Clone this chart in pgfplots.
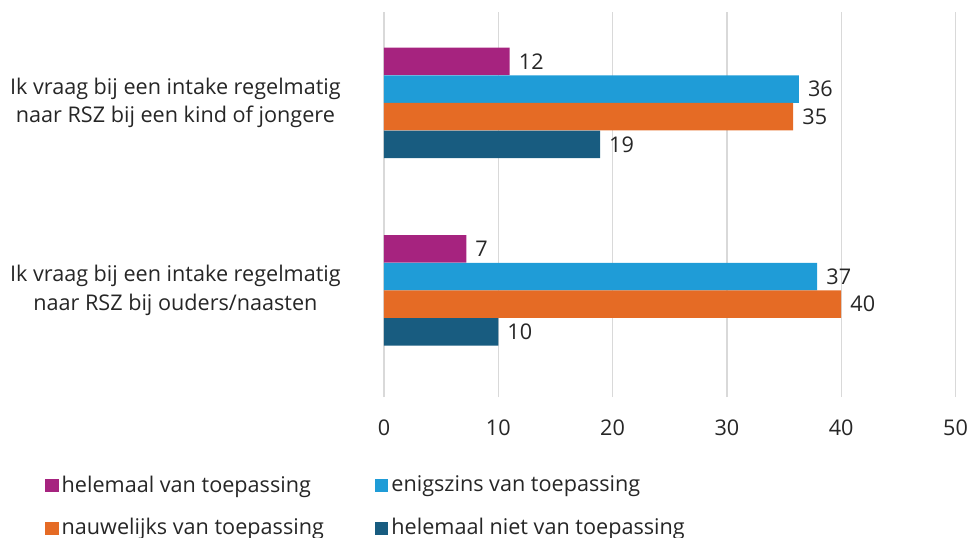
\documentclass[border=0pt]{standalone}
\usepackage{fontspec}
\setmainfont{Open Sans}
\usepackage{pgfplots}
\pgfplotsset{compat=1.18}
\definecolor{cPurple}{HTML}{A6237F}
\definecolor{cBlue}{HTML}{1F9CD7}
\definecolor{cOrange}{HTML}{E56B25}
\definecolor{cNavy}{HTML}{185C80}
\definecolor{cText}{HTML}{262626}
\definecolor{cGrid}{HTML}{D9D9D9}
\begin{document}
\fontsize{21.7}{28.5}\selectfont
\begin{tikzpicture}
\path[use as bounding box] (-384bp,-141bp) rectangle (587bp,397bp);
\begin{axis}[
  at={(0,0)}, anchor=south west,
  scale only axis, width=571.5bp, height=385bp,
  xbar, bar width=0.1467,
  xmin=0, xmax=50, ymin=-0.568, ymax=1.485,
  enlargelimits=false, clip=false,
  xtick={0,10,20,30,40,50},
  ytick={0,1},
  yticklabels={{Ik vraag bij een intake regelmatig\\naar RSZ bij ouders/naasten},{Ik vraag bij een intake regelmatig\\naar RSZ bij een kind of jongere}},
  yticklabel style={align=center, inner sep=0pt, anchor=east, xshift=-43bp, text=cText},
  xticklabel style={anchor=base, inner sep=0pt, yshift=-38.5bp, text=cText},
  /pgf/number format/assume math mode=true,
  major tick length=0pt,
  axis line style={draw=none},
  xmajorgrids, major grid style={cGrid, line width=1.3bp},
  point meta=explicit symbolic,
  nodes near coords,
  nodes near coords style={anchor=west, inner sep=0pt, xshift=9bp, text=cText},
  legend columns=2,
  legend cell align=left,
  legend style={draw=none, fill=none, inner sep=0pt, anchor=north west,
    at={(axis description cs:-0.5932,-0.196)},
    nodes={inner sep=3bp, text=cText},
    row sep=17bp,
    /tikz/every even column/.append style={column sep=48bp}},
  legend image code/.code={\fill[#1] (0bp,-6.5bp) rectangle (13.5bp,6.5bp);},
]
\addplot[fill=cPurple, draw=none, bar shift=0.2213] coordinates {(11.0,1) [12] (7.2,0) [7]};
\addplot[fill=cBlue, draw=none, bar shift=0.0733] coordinates {(36.3,1) [36] (37.9,0) [37]};
\addplot[fill=cOrange, draw=none, bar shift=-0.0733] coordinates {(35.8,1) [35] (40.0,0) [40]};
\addplot[fill=cNavy, draw=none, bar shift=-0.2213] coordinates {(18.9,1) [19] (10.0,0) [10]};
\legend{helemaal van toepassing, enigszins van toepassing, nauwelijks van toepassing, helemaal niet van toepassing}
\end{axis}
\end{tikzpicture}
\end{document}
